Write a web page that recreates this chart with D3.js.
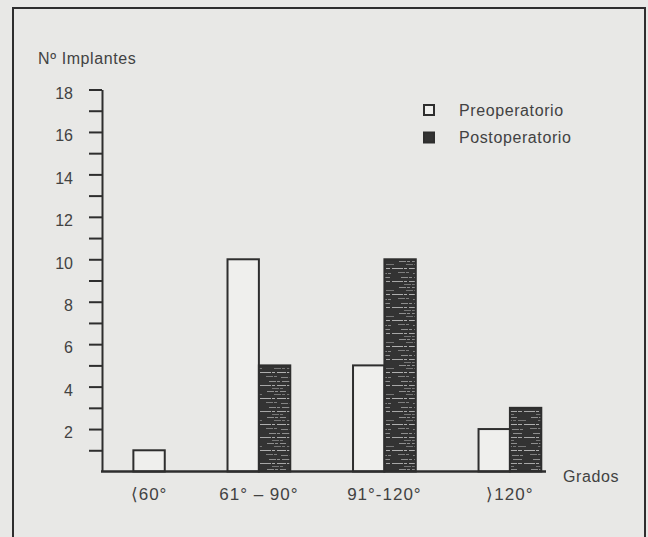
<!DOCTYPE html>
<html>
<head>
<meta charset="utf-8">
<script src="https://cdn.jsdelivr.net/npm/d3@7"></script>
<style>
  html, body { margin: 0; padding: 0; background: #e8e8e6; }
  svg { display: block; }
  text { font-family: "Liberation Sans", Arial, Helvetica, sans-serif; fill: #424242; letter-spacing: 0.6px; }
</style>
</head>
<body>
<svg id="chart" width="648" height="537"></svg>
<script>
// Number of implants by range of motion (degrees), before and after surgery
const categories = ["⟨60°", "61° – 90°", "91°-120°", "⟩120°"];
const preoperatorio = [1, 10, 5, 2];
const postoperatorio = [0, 5, 10, 3];
const seriesNames = ["Preoperatorio", "Postoperatorio"];
const yTickValues = [1, 2, 3, 4, 5, 6, 7, 8, 9, 10, 11, 12, 13, 14, 15, 16, 17, 18];
const yTickLabels = [2, 4, 6, 8, 10, 12, 14, 16, 18];
const yTitle = "Nº Implantes";
const xTitle = "Grados";

const ink = "#2e2e2e";
const svg = d3.select("#chart");

// Halftone-like dark fill used for the postoperative bars
const defs = svg.append("defs");
const pat = defs.append("pattern")
  .attr("id", "darkTone")
  .attr("patternUnits", "userSpaceOnUse")
  .attr("width", 33).attr("height", 26);
pat.append("rect").attr("width", 33).attr("height", 26).attr("fill", "#333333");
const streaks = [
  {y: 1.5, x1: 3, x2: 22, o: 0.55},
  {y: 4.5, x1: 10, x2: 31, o: 0.4},
  {y: 8.5, x1: 0, x2: 33, o: 0.75},
  {y: 12.5, x1: 2, x2: 14, o: 0.45},
  {y: 13.5, x1: 17, x2: 30, o: 0.5},
  {y: 17.5, x1: 5, x2: 27, o: 0.55},
  {y: 21.5, x1: 0, x2: 33, o: 0.7},
  {y: 24.5, x1: 8, x2: 20, o: 0.4}
];
pat.selectAll("line").data(streaks).join("line")
  .attr("x1", d => d.x1).attr("x2", d => d.x2)
  .attr("y1", d => d.y).attr("y2", d => d.y)
  .attr("stroke", "#d8d8d8").attr("stroke-width", 1)
  .attr("stroke-dasharray", "7 1 3 2 9 1 4 2")
  .attr("opacity", d => d.o);

// Outer frame
svg.append("rect")
  .attr("x", 13).attr("y", 8)
  .attr("width", 632).attr("height", 545)
  .attr("fill", "none").attr("stroke", ink).attr("stroke-width", 2);

// Bars are packed in slots of one bar width; empty series are left out and groups are separated by two slots
let slot = 1;
const groups = categories.map((cat, i) => {
  const bars = [
    {series: 0, value: preoperatorio[i]},
    {series: 1, value: postoperatorio[i]}
  ].filter(d => d.value > 0).map((d, k) => ({...d, slot: slot + k}));
  const g = {cat, start: slot, end: slot + bars.length, bars};
  slot += bars.length + 2;
  return g;
});
const lastSlot = slot - 2;

const x = d3.scaleLinear().domain([0, lastSlot + 0.15]).range([102, 546]);
const y = d3.scaleLinear().domain([0, 18]).range([471.5, 89.5]);

// Y axis
const yAxis = d3.axisLeft(y)
  .tickValues(yTickValues)
  .tickSize(13)
  .tickSizeOuter(0)
  .tickPadding(16)
  .tickFormat(d => yTickLabels.includes(d) ? d : "");
const gy = svg.append("g").attr("transform", `translate(${x(0)},0)`).call(yAxis);
gy.select(".domain").attr("stroke", ink).attr("stroke-width", 2);
gy.selectAll(".tick line").attr("stroke", ink).attr("stroke-width", 2);
gy.selectAll(".tick text")
  .attr("dy", "0.55em")
  .style("font-size", "16px")
  .style("letter-spacing", "0px")
  .attr("fill", "#424242");

// Bars
const barG = svg.append("g");
groups.forEach(g => {
  barG.selectAll(null).data(g.bars).join("rect")
    .attr("x", d => x(d.slot))
    .attr("width", d => x(d.slot + 1) - x(d.slot))
    .attr("y", d => y(d.value))
    .attr("height", d => y(0) - y(d.value))
    .attr("fill", d => d.series === 0 ? "#efefed" : "url(#darkTone)")
    .attr("stroke", ink)
    .attr("stroke-width", 2);
});

// Baseline
svg.append("line")
  .attr("x1", x(0) - 1).attr("x2", x(lastSlot + 0.15))
  .attr("y1", y(0)).attr("y2", y(0))
  .attr("stroke", ink).attr("stroke-width", 2.5);

// Category labels
svg.append("g").selectAll("text").data(groups).join("text")
  .attr("x", g => x((g.start + g.end) / 2))
  .attr("y", y(0) + 28)
  .attr("text-anchor", "middle")
  .style("font-size", "17px")
  .style("letter-spacing", "1px")
  .text(g => g.cat);

// Axis titles
svg.append("text")
  .attr("x", 38).attr("y", 64)
  .style("font-size", "16px")
  .text(yTitle);
svg.append("text")
  .attr("x", 563).attr("y", y(0) + 10)
  .style("font-size", "16px")
  .text(xTitle);

// Legend
const legend = svg.append("g").attr("transform", "translate(423,104)");
const items = legend.selectAll("g").data(seriesNames).join("g")
  .attr("transform", (d, i) => `translate(0,${i * 27.5})`);
items.append("rect")
  .attr("x", 1).attr("y", 1)
  .attr("width", 10).attr("height", 10)
  .attr("fill", (d, i) => i === 0 ? "#efefed" : "#333333")
  .attr("stroke", ink).attr("stroke-width", 2);
items.append("text")
  .attr("x", 36).attr("y", 6)
  .attr("dy", "0.36em")
  .style("font-size", "16px")
  .text(d => d);
</script>
</body>
</html>
